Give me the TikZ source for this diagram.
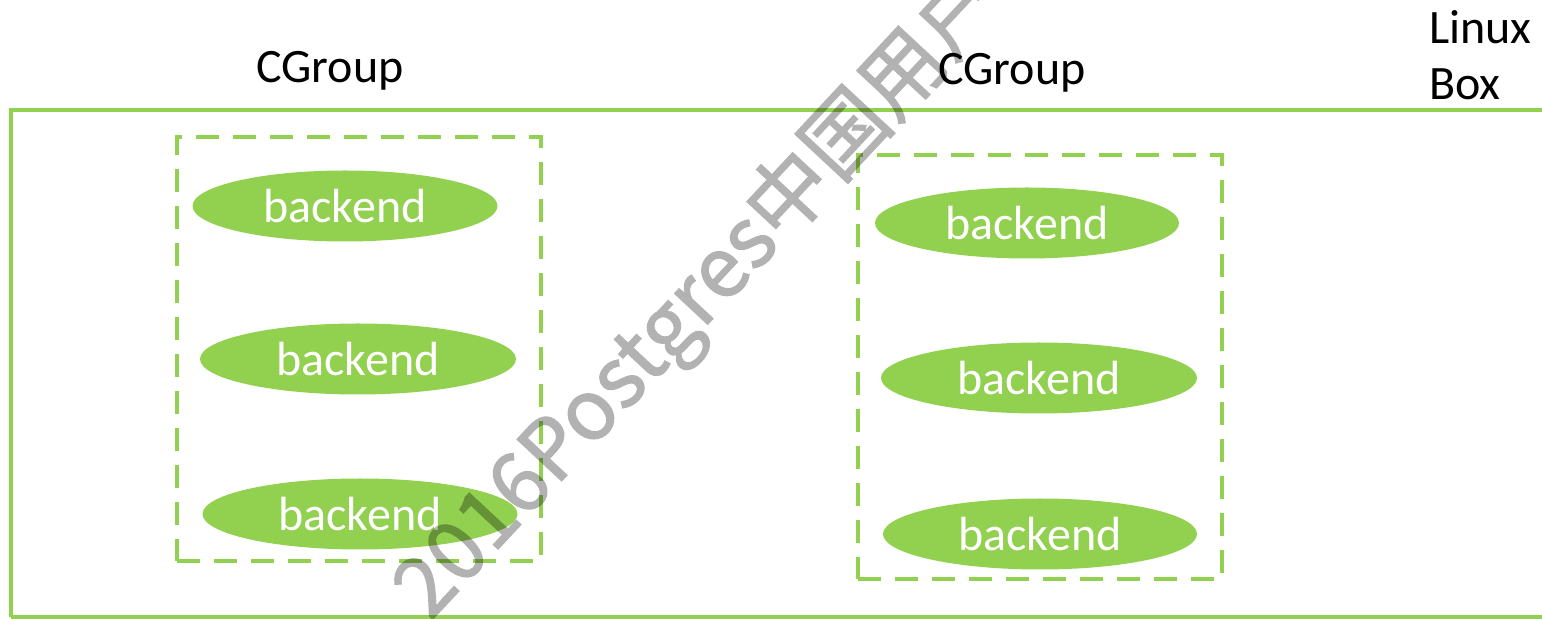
\documentclass[tikz,border=0pt]{standalone}
\usepackage{fontspec}
\setmainfont{Carlito}
\newfontfamily\cjk[FakeBold=1.6]{Noto Sans CJK SC}
\usetikzlibrary{shapes.geometric}
\definecolor{lgreen}{RGB}{146,208,80}
\begin{document}
\begin{tikzpicture}[x=0.5pt,y=-0.5pt,
  txt/.style={font=\fontsize{24}{28.5}\selectfont, inner sep=0pt},
  cgbox/.style={draw=lgreen, line width=2.3pt, dash pattern=on 11.5pt off 7pt, minimum width=182pt, minimum height=212pt, inner sep=0pt},
  bkend/.style={ellipse, fill=lgreen, inner sep=0pt, minimum height=35.5pt},
  bktxt/.style={txt, text=white},
  wmark/.style={font=\cjk\fontsize{41.5}{41.5}\selectfont, text=black, inner sep=0pt}]
\useasboundingbox (0,0) rectangle (1542,619);
\begin{scope}
\clip (0,0) rectangle (1542,619);
\draw[lgreen, line width=2.3pt] (11,617) -- (11,110) -- (1560,110);
\draw[lgreen, line width=2.3pt] (11,617) -- (1560,617);
\end{scope}
% CGroup boxes
\node[cgbox] (cg1) at (359,349) {};
\node[cgbox] (cg2) at (1040,367) {};
% backends left
\node[bkend, minimum width=152.5pt, label={[bktxt]center:backend}] (b1) at (345,206) {};
\node[bkend, minimum width=158pt, label={[bktxt]center:backend}] (b2) at (358,359) {};
\node[bkend, minimum width=157.5pt, label={[bktxt]center:backend}] (b3) at (360,514) {};
% backends right
\node[bkend, minimum width=152pt, label={[bktxt]center:backend}] (b4) at (1027,223) {};
\node[bkend, minimum width=158pt, label={[bktxt]center:backend}] (b5) at (1039,378) {};
\node[bkend, minimum width=157pt, label={[bktxt]center:backend}] (b6) at (1040,534) {};
% labels
\node[txt, anchor=base] (l1) at (330,83) {CGroup};
\node[txt, anchor=base] (l2) at (1012,85) {CGroup};
\node[txt, anchor=base west] (lx1) at (1429,44) {Linux};
\node[txt, anchor=base west] (lx2) at (1429,100) {Box};
% watermark
\begin{scope}
\clip (0,0) rectangle (1542,619);
\begin{scope}[transparency group, opacity=0.3]
\node[wmark, rotate=47, anchor=base west] (wm) at (430,622) {2016Postgres中国用户};
\end{scope}
\end{scope}
\end{tikzpicture}
\end{document}
